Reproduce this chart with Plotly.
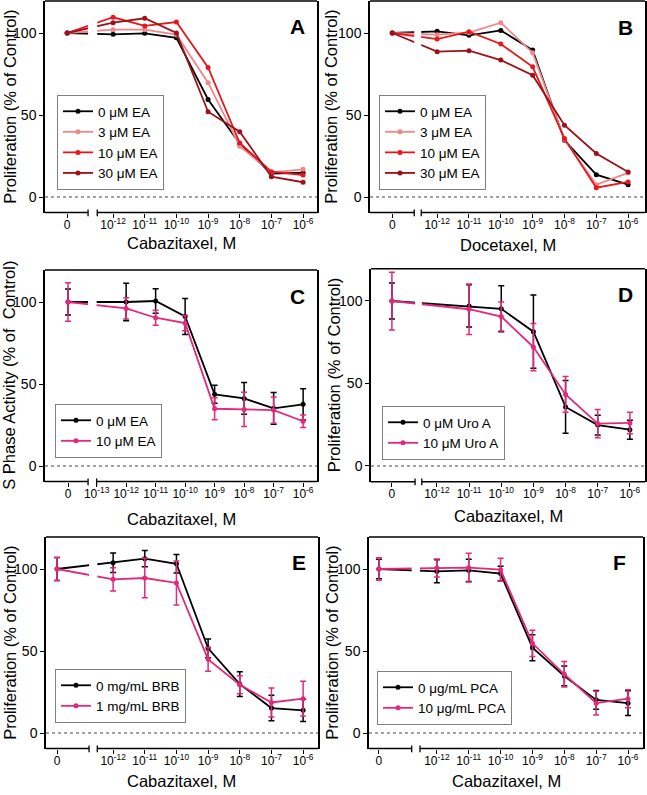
import math
import plotly.graph_objects as go

W, H = 647, 795
FONT = "Liberation Sans, Arial, Helvetica, sans-serif"

# ---------------- data ----------------
CONC = [0, 1e-12, 1e-11, 1e-10, 1e-9, 1e-8, 1e-7, 1e-6]
CONC_D = [0, 1e-11, 1e-10, 1e-9, 1e-8, 1e-7, 1e-6]
TICK_EXP = [-12, -11, -10, -9, -8, -7, -6]
TICK_EXP_C = [-13, -12, -11, -10, -9, -8, -7, -6]

# Panel A (Cabazitaxel + EA)
A_EA0 = [100, 99.2, 99.8, 97.1, 59.5, 32.5, 14.3, 14.8]
A_EA3 = [100, 102.0, 102.0, 99.0, 69.7, 31.0, 15.0, 16.9]
A_EA10 = [100, 109.6, 104.3, 106.7, 79.0, 32.9, 15.4, 13.4]
A_EA30 = [100, 106.3, 109.0, 100.0, 52.0, 39.8, 12.4, 9.0]

# Panel B (Docetaxel + EA)
B_EA0 = [100, 101.0, 98.6, 101.6, 89.6, 34.6, 13.6, 7.5]
B_EA3 = [100, 99.0, 100.2, 106.3, 88.0, 35.0, 7.5, 14.7]
B_EA10 = [100, 96.3, 100.8, 93.3, 79.4, 35.6, 5.7, 9.2]
B_EA30 = [100, 88.6, 89.2, 83.5, 74.3, 43.8, 26.5, 15.3]

# Panel C (S phase activity)
C_EA0 = [100, 100.0, 100.6, 91.2, 43.7, 41.2, 35.1, 37.6]
C_EA0_ERR = [8, 11.5, 7.5, 11, 5.5, 9.7, 9.7, 9.5]
C_EA10 = [100, 96.1, 90.4, 87.1, 34.9, 34.5, 34.1, 27.3]
C_EA10_ERR = [11.8, 6.5, 4.6, 4.6, 6.7, 10.4, 8.0, 3.8]

# Panel D (Uro A)
D_U0 = [100, 97.0, 95.3, 81.4, 35.8, 24.8, 22.0]
D_U0_ERR = [10.9, 12.8, 14.0, 22.2, 16.0, 6.0, 5.8]
D_U10 = [100, 95.0, 90.6, 72.1, 43.4, 25.7, 26.1]
D_U10_ERR = [17.5, 15.3, 8.8, 14.3, 10.8, 8.6, 6.5]

# Panel E (BRB)
E_B0 = [100, 103.8, 106.3, 103.2, 51.6, 29.8, 15.2, 13.8]
E_B0_ERR = [7, 6.0, 5.0, 5.7, 5.7, 7.6, 7.8, 6.8]
E_B1 = [100, 93.7, 94.5, 91.5, 44.9, 29.4, 18.6, 20.9]
E_B1_ERR = [7, 7.1, 12.0, 13.4, 7.3, 5.5, 8.9, 10.6]

# Panel F (PCA)
F_P0 = [100, 98.6, 99.2, 97.2, 52.0, 34.8, 20.2, 18.2]
F_P0_ERR = [6, 7.0, 6.8, 4.5, 7.9, 6.0, 5.7, 7.6]
F_P10 = [100, 100.6, 100.8, 99.6, 54.7, 35.8, 18.2, 20.9]
F_P10_ERR = [6.8, 5.5, 8.8, 7.0, 8.0, 7.8, 7.3, 5.5]

# ---------------- styles ----------------
BLACK = "#000000"
PINK_LIGHT = "#F2878B"
RED = "#E8171D"
DARK_RED = "#9E1119"
MAGENTA = "#E4287C"

YMIN, YMAX = -9.5, 119.5
YTITLE = "Proliferation (% of Control)"

panels = [
    dict(letter="A", xpx=(45, 317), y0=197, s=1.64, xrange=(-14.15, -5.56), zero=-13.45,
         brk=(-12.79, -12.5), ticks=TICK_EXP, xtitle="Cabazitaxel, M", ytitle=YTITLE,
         ytx=10, xty=243, letpos=(297, 27), legpos=(57, 190), conc=CONC,
         series=[("0 μM EA", A_EA0, None, BLACK), ("3 μM EA", A_EA3, None, PINK_LIGHT),
                 ("10 μM EA", A_EA10, None, RED), ("30 μM EA", A_EA30, None, DARK_RED)]),
    dict(letter="B", xpx=(370, 645), y0=197, s=1.64, xrange=(-14.11, -5.47), zero=-13.41,
         brk=(-12.72, -12.5), ticks=TICK_EXP, xtitle="Docetaxel, M", ytitle=YTITLE,
         ytx=331, xty=245, letpos=(625, 28), legpos=(379, 190), conc=CONC,
         series=[("0 μM EA", B_EA0, None, BLACK), ("3 μM EA", B_EA3, None, PINK_LIGHT),
                 ("10 μM EA", B_EA10, None, RED), ("30 μM EA", B_EA30, None, DARK_RED)]),
    dict(letter="C", xpx=(45, 317), y0=466, s=1.64, xrange=(-14.75, -5.53), zero=-13.97,
         brk=(-13.29, -13.0), ticks=TICK_EXP_C, xtitle="Cabazitaxel, M",
         ytitle="S Phase Activity (% of  Control)",
         ytx=9, xty=519, letpos=(297, 297), legpos=(55, 458), conc=CONC,
         series=[("0 μM EA", C_EA0, C_EA0_ERR, BLACK), ("10 μM EA", C_EA10, C_EA10_ERR, MAGENTA)]),
    dict(letter="D", xpx=(371, 645), y0=466, s=1.65, xrange=(-14.05, -5.53), zero=-13.40,
         brk=(-12.68, -12.47), ticks=TICK_EXP, xtitle="Cabazitaxel, M", ytitle=YTITLE,
         ytx=334, xty=516, letpos=(625, 295), legpos=(382, 460), conc=CONC_D,
         series=[("0 μM Uro A", D_U0, D_U0_ERR, BLACK), ("10 μM Uro A", D_U10, D_U10_ERR, MAGENTA)]),
    dict(letter="E", xpx=(46, 318), y0=733, s=1.64, xrange=(-14.12, -5.53), zero=-13.77,
         brk=(-12.76, -12.5), ticks=TICK_EXP, xtitle="Cabazitaxel, M", ytitle=YTITLE,
         ytx=10, xty=781, letpos=(299, 562), legpos=(55, 723), conc=CONC,
         series=[("0 mg/mL BRB", E_B0, E_B0_ERR, BLACK), ("1 mg/mL BRB", E_B1, E_B1_ERR, MAGENTA)]),
    dict(letter="F", xpx=(369, 643), y0=733, s=1.64, xrange=(-14.13, -5.53), zero=-13.82,
         brk=(-12.79, -12.53), ticks=TICK_EXP, xtitle="Cabazitaxel, M", ytitle=YTITLE,
         ytx=332, xty=781, letpos=(619, 562), legpos=(377, 725), conc=CONC,
         series=[("0 μg/mL PCA", F_P0, F_P0_ERR, BLACK), ("10 μg/mL PCA", F_P10, F_P10_ERR, MAGENTA)]),
]

fig = go.Figure()
layout = dict(width=W, height=H, margin=dict(l=0, r=0, t=0, b=0),
              paper_bgcolor="white", plot_bgcolor="white", showlegend=True,
              font=dict(family=FONT, color="black"))
shapes, annotations = [], []

for i, p in enumerate(panels, start=1):
    sfx = "" if i == 1 else str(i)
    xr, yr = "x" + sfx, "y" + sfx
    leg = "legend" + sfx
    x0px, x1px = p["xpx"]
    top = p["y0"] - YMAX * p["s"]
    bot = p["y0"] - YMIN * p["s"]

    tickvals = [p["zero"]] + p["ticks"]
    ticktext = ["0"] + ["10<sup>%d</sup>" % e for e in p["ticks"]]

    layout["xaxis" + sfx] = dict(
        domain=[x0px / W, x1px / W], anchor=yr, range=list(p["xrange"]),
        showline=False, showgrid=False, zeroline=False,
        ticks="outside", ticklen=4, tickwidth=1.3, tickcolor="black",
        ticklabelstandoff=-3,
        tickvals=tickvals, ticktext=ticktext, tickfont=dict(size=12, family=FONT))
    layout["yaxis" + sfx] = dict(
        domain=[1 - bot / H, 1 - top / H], anchor=xr, range=[YMIN, YMAX],
        showline=True, mirror=True, linecolor="black", linewidth=1.5,
        showgrid=False, zeroline=False,
        ticks="outside", ticklen=4, tickwidth=1.3, tickcolor="black",
        tickvals=[0, 50, 100], tickfont=dict(size=14, family=FONT))

    xs = [p["zero"] if c == 0 else math.log10(c) for c in p["conc"]]
    for name, vals, err, col in p["series"]:
        tr = dict(x=xs, y=vals, name=name, mode="lines+markers", xaxis=xr, yaxis=yr,
                  legend=leg, line=dict(color=col, width=1.8),
                  marker=dict(color=col, size=5, symbol="circle"))
        if err is not None:
            tr["error_y"] = dict(type="data", array=err, visible=True, color=col,
                                 thickness=1.5, width=3)
        fig.add_trace(go.Scatter(**tr))

    lx, ly = p["legpos"]
    layout[leg] = dict(x=lx / W, y=1 - ly / H, xanchor="left", yanchor="bottom",
                       bgcolor="white", bordercolor="#7f7f7f", borderwidth=1,
                       font=dict(size=13.5, family=FONT, color="black"),
                       itemwidth=30, tracegroupgap=0, traceorder="normal",
                       itemclick=False, itemdoubleclick=False)

    b0, b1 = p["brk"]
    # white gap over the axis break (interrupts the connecting lines)
    shapes.append(dict(type="rect", xref=xr, yref=yr, x0=b0, x1=b1, y0=1, y1=118,
                       fillcolor="white", line=dict(width=0), layer="above"))
    # dotted zero line
    shapes.append(dict(type="line", xref=xr + " domain", yref=yr, x0=0, x1=1, y0=0, y1=0,
                       line=dict(color="#444444", width=1.2, dash="dot"), layer="above"))
    # bottom axis with break
    shapes.append(dict(type="line", xref=xr, yref=yr + " domain", x0=p["xrange"][0], x1=b0,
                       y0=0, y1=0, line=dict(color="black", width=1.5), layer="above"))
    shapes.append(dict(type="line", xref=xr, yref=yr + " domain", x0=b1, x1=p["xrange"][1],
                       y0=0, y1=0, line=dict(color="black", width=1.5), layer="above"))
    for bx in (b0, b1):
        shapes.append(dict(type="line", xref=xr, yref=yr + " domain", x0=bx, x1=bx,
                           y0=-0.017, y1=0.015, line=dict(color="black", width=1.3),
                           layer="above"))
    # top frame
    shapes.append(dict(type="line", xref=xr + " domain", yref=yr + " domain", x0=0, x1=1,
                       y0=1, y1=1, line=dict(color="black", width=1.5), layer="above"))

    # titles & panel letter
    annotations.append(dict(text=p["ytitle"], xref="paper", yref="paper",
                            x=p["ytx"] / W, y=1 - ((top + bot) / 2) / H,
                            textangle=-90, showarrow=False, xanchor="center", yanchor="middle",
                            font=dict(size=16.5, family=FONT, color="black")))
    annotations.append(dict(text=p["xtitle"], xref="paper", yref="paper",
                            x=(x0px + x1px) / 2 / W, y=1 - p["xty"] / H,
                            showarrow=False, xanchor="center", yanchor="middle",
                            font=dict(size=16.5, family=FONT, color="black")))
    annotations.append(dict(text="<b>%s</b>" % p["letter"], xref="paper", yref="paper",
                            x=p["letpos"][0] / W, y=1 - p["letpos"][1] / H,
                            showarrow=False, xanchor="center", yanchor="middle",
                            font=dict(size=21, family=FONT, color="black")))

layout["shapes"] = shapes
layout["annotations"] = annotations
fig.update_layout(**layout)
fig.write_html("out.html", config={"displayModeBar": False},
               post_script="document.body.style.margin='0px';document.body.style.padding='0px';")
